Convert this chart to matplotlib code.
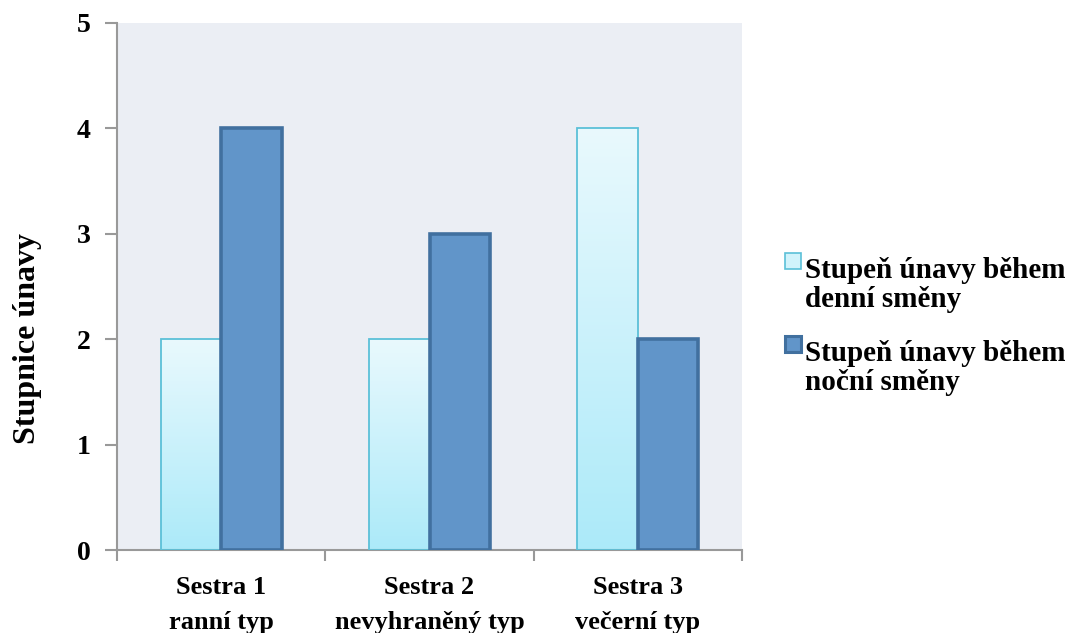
import matplotlib
matplotlib.use("Agg")
import matplotlib.pyplot as plt
import numpy as np
from matplotlib.patches import Rectangle
from matplotlib.colors import LinearSegmentedColormap

categories = ["Sestra 1\nranní typ", "Sestra 2\nnevyhraněný typ", "Sestra 3\nvečerní typ"]
day_values = [2, 2, 4]
night_values = [4, 3, 2]
series_labels = ["Stupeň únavy během\ndenní směny", "Stupeň únavy během\nnoční směny"]
y_ticks = [0, 1, 2, 3, 4, 5]
y_label = "Stupnice únavy"

plt.rcParams['font.family'] = ['Liberation Serif', 'DejaVu Serif']
plt.rcParams['font.weight'] = 'bold'

W, H = 1073, 633
fig = plt.figure(figsize=(W / 100, H / 100), dpi=100)
ax = fig.add_axes([117 / W, 1 - 550 / H, (742 - 117) / W, (550 - 23) / H])
ax.set_facecolor('#ebeef4')

x = np.arange(len(categories))
bw = 0.29
light_edge = '#5bc0d8'
dark_fill = '#6195c9'
dark_edge = '#41709f'
cmap = LinearSegmentedColormap.from_list('g', ['#aceaf9', '#e9f9fd'])

for xi, v in zip(x, day_values):
    left = xi - bw
    rect = Rectangle((left, 0), bw, v, facecolor='none', edgecolor=light_edge, lw=1.3, zorder=3)
    ax.add_patch(rect)
    grad = np.linspace(0, 1, 256).reshape(-1, 1)
    im = ax.imshow(grad, extent=(left, left + bw, 0, v), origin='lower', cmap=cmap,
                   aspect='auto', zorder=2)
    im.set_clip_path(rect)

ax.bar(x + bw / 2, night_values, width=bw, color=dark_fill, edgecolor=dark_edge,
       linewidth=2.6, zorder=4)

ax.set_xlim(-0.5, len(categories) - 0.5)
ax.set_ylim(0, 5)
ax.set_yticks(y_ticks)
ax.set_yticklabels([str(t) for t in y_ticks], fontsize=20, fontweight='bold')
ax.set_xticks(np.arange(len(categories) + 1) - 0.5)
ax.set_xticklabels([])
ax.set_xticks(x, minor=True)
ax.set_xticklabels(categories, minor=True, fontsize=19, fontweight='bold', linespacing=1.66)
ax.tick_params(axis='x', which='minor', length=0, pad=19)
ax.tick_params(axis='x', which='major', length=8, width=1.5, color='#999999')
ax.tick_params(axis='y', length=9, width=1.5, color='#999999', pad=10)
for s in ['top', 'right']:
    ax.spines[s].set_visible(False)
for s in ['left', 'bottom']:
    ax.spines[s].set_color('#999999')
    ax.spines[s].set_linewidth(1.5)
ax.set_ylabel(y_label, fontsize=23, fontweight='bold')
ax.yaxis.set_label_coords(-(117 - 28) / (742 - 117), (550 - 339) / (550 - 23))
ax.yaxis.label.set_va('center')

# legend (manual)
leg_items = [
    (cmap(0.6), light_edge, 1.2, 253, series_labels[0]),
    (dark_fill, dark_edge, 2.2, 336, series_labels[1]),
]
for fc, ec, lw, ytop, lab in leg_items:
    fig.patches.append(Rectangle((785 / W, 1 - (ytop + 16) / H), 16 / W, 16 / H,
                                 transform=fig.transFigure, facecolor=fc,
                                 edgecolor=ec, lw=lw))
    fig.text(805 / W, 1 - (ytop + 4) / H, lab, fontsize=21, fontweight='bold',
             va='top', ha='left', linespacing=1.1)

fig.savefig('out.png', dpi=100)
